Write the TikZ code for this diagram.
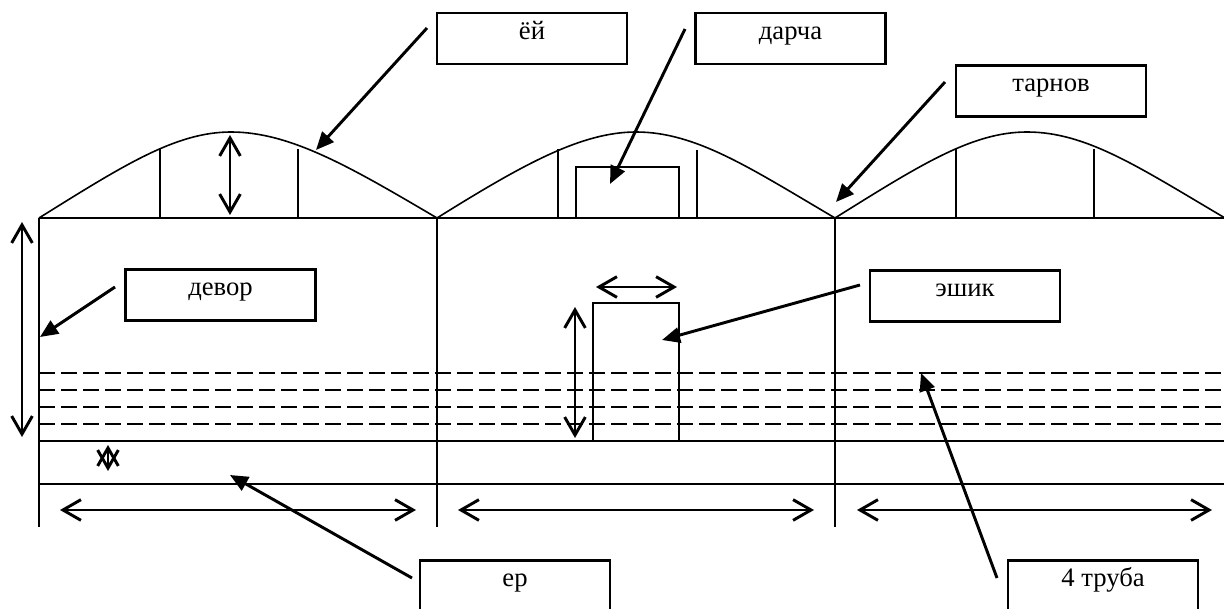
\documentclass[tikz,border=0pt]{standalone}
\usepackage{fontspec}
\setmainfont{Liberation Serif}
\usetikzlibrary{arrows.meta}
\tikzset{
	px/.style={x=0.75pt,y=-0.75pt},
	outline/.style={line width=1.2pt,line cap=butt},
	labelbox/.style={draw,line width=1.8pt,minimum width=142.5pt,inner sep=0pt,text height=19.5pt,text depth=18.5pt,font=\fontsize{20}{20}\selectfont},
	pointer/.style={-{Triangle[length=13.5pt,width=11.5pt]},line width=2.2pt},
	span/.style={{Straight Barb[length=13.5pt,width=15.5pt]}-{Straight Barb[length=13.5pt,width=15.5pt]},line width=2.2pt}
}
\begin{document}
\begin{tikzpicture}[px]
	\clip (0,0) rectangle (1224,609);
	% roofs
	\foreach \a/\b/\c in {39/231/437,437/636/835,835/1027/1225}
		\draw[outline] (\a,218) .. controls (\a+85,165) and (\b-55,132) .. (\b,132) .. controls (\b+60,132) and (\c-85,168) .. (\c,218);
	\foreach \x/\y in {160/148,298/149,558/149,697/150,956/148,1094/149}
		\draw[outline] (\x,\y) -- (\x,218);
	\draw[outline] (39,218) -- (1224,218);
	\foreach \x in {39,437,835}
		\draw[outline] (\x,218) -- (\x,527);
	% ground and pipes
	\foreach \y in {441,484}
		\draw[outline] (39,\y) -- (1224,\y);
	\foreach \y in {373,390,407,424}
		\draw[line width=1.6pt,dash pattern=on 11.8pt off 4.7pt] (39,\y) -- (1221,\y);
	% window and door
	\draw[outline] (576,218) rectangle (679,167);
	\draw[outline] (593,441) rectangle (679,303);
	% labels
	\node[labelbox] (roof) at (532,38.5) {ёй};
	\node[labelbox] (window) at (790.5,38.5) {дарча};
	\node[labelbox] (gutter) at (1051,91) {тарнов};
	\node[labelbox] (wall) at (220.5,295) {девор};
	\node[labelbox] (door) at (965,296) {эшик};
	\node[labelbox] (ground) at (515,586) {ер};
	\node[labelbox] (pipes) at (1103,586) {4 труба};
	% pointers
	\coordinate (roofT) at (427,28);
	\coordinate (roofP) at (316,150);
	\coordinate (windowT) at (685,29);
	\coordinate (windowP) at (610,184);
	\coordinate (gutterT) at (945,82);
	\coordinate (gutterP) at (836,202);
	\coordinate (wallT) at (115,287);
	\coordinate (wallP) at (40,337);
	\coordinate (doorT) at (860,285);
	\coordinate (doorP) at (662,340);
	\coordinate (groundT) at (412,578);
	\coordinate (groundP) at (230,475);
	\coordinate (pipesT) at (997,578);
	\coordinate (pipesP) at (921,373);
	\foreach \n in {roof,window,gutter,wall,door,ground,pipes}
		\draw[pointer] (\n T) -- (\n P);
	% sizes
	\foreach \a/\b in {60/416,458/814,857/1212}
		\draw[span] (\a,510) -- (\b,510);
	\draw[span] (22,222) -- (22,437);
	\draw[span] (230,135) -- (230,215);
	\draw[span] (596,287) -- (677,287);
	\draw[span] (575,307) -- (575,438);
	\draw[span] (108,445) -- (108,471);
\end{tikzpicture}
\end{document}
